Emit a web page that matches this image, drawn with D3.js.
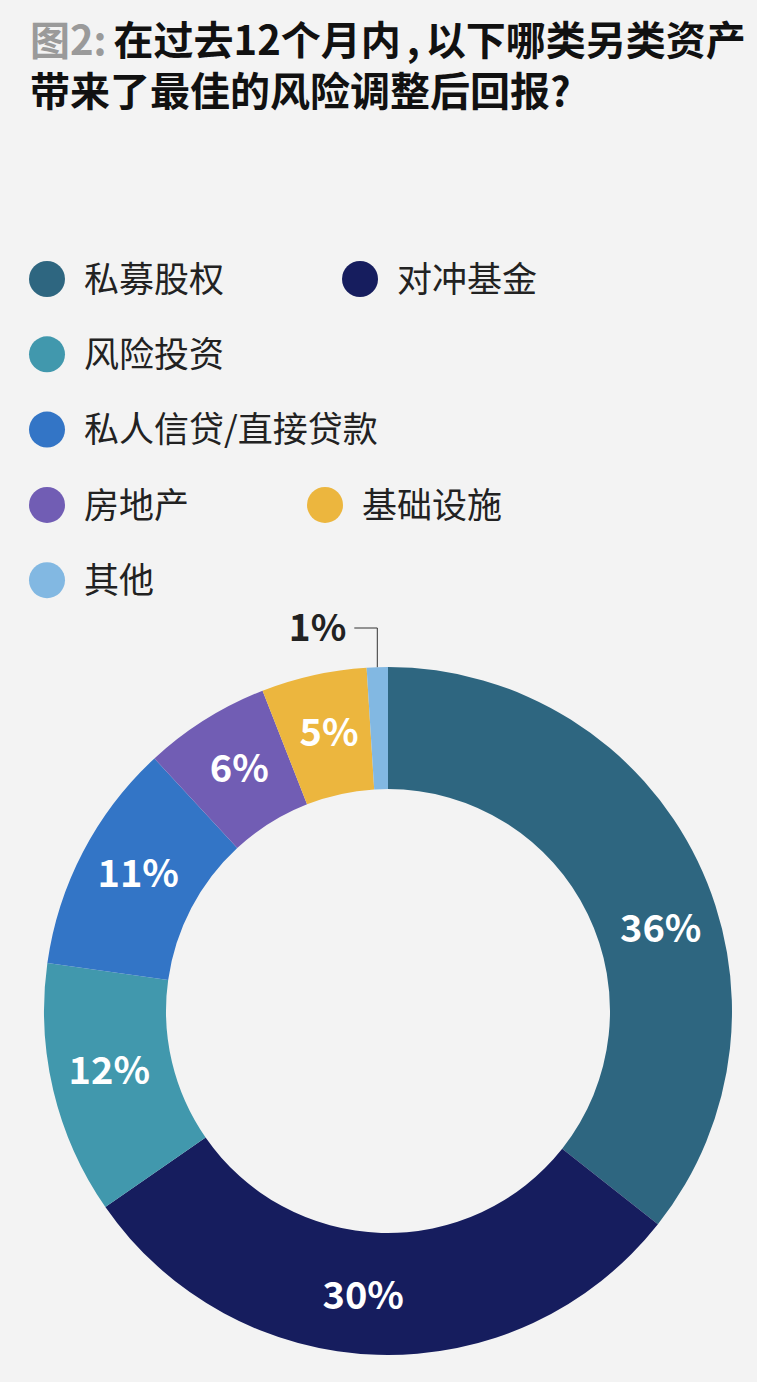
<!DOCTYPE html>
<html>
<head>
<meta charset="utf-8">
<script src="https://cdn.jsdelivr.net/npm/d3@7"></script>
<style>
  html, body { margin: 0; padding: 0; background: #f3f3f3; }
  svg { display: block; font-family: "Noto Sans CJK SC", "Noto Sans", sans-serif; }
</style>
</head>
<body>
<svg id="chart" width="757" height="1382"></svg>
<script>
// data
const categories = ["私募股权", "对冲基金", "风险投资", "私人信贷/直接贷款", "房地产", "基础设施", "其他"];
const shares = [36, 30, 12, 11, 6, 5, 1];
const colours = ["#2e6680", "#161d5e", "#4198ad", "#3375c6", "#715db4", "#ecb63e", "#82b8e2"];
const titlePrefix = "图2:";
const titlePieces = ["在过去12个月内", ",", "以下哪类另类资产"];
const titleLine2 = "带来了最佳的风险调整后回报?";

const svg = d3.select("#chart");

// title: pieces placed one after another so the punctuation gets some air
let tx = 30;
[[titlePrefix, "#9a9a9a", 7], [titlePieces[0], "#111", 6], [titlePieces[1], "#111", 6], [titlePieces[2], "#111", 0]]
  .forEach(([s, col, pad]) => {
    const t = svg.append("text")
      .attr("x", tx)
      .attr("y", 55)
      .attr("font-size", 40)
      .attr("font-weight", 700)
      .attr("fill", col)
      .text(s);
    tx += t.node().getComputedTextLength() + pad;
  });
svg.append("text")
  .attr("x", 30)
  .attr("y", 106)
  .attr("font-size", 40)
  .attr("font-weight", 700)
  .attr("fill", "#111")
  .text(titleLine2);

// legend, laid out as a wrapping row of items
const legend = svg.append("g").attr("class", "legend");
const maxWidth = 640, gap = 118, rowStep = 75.3;
let lx = 29, ly = 279;
categories.forEach((c, i) => {
  const item = legend.append("g");
  item.append("circle").attr("r", 18).attr("cx", 18).attr("fill", colours[i]);
  const t = item.append("text")
    .attr("x", 55)
    .attr("dy", "0.36em")
    .attr("font-size", 35)
    .attr("fill", "#222")
    .text(c);
  const w = 55 + t.node().getComputedTextLength();
  if (lx > 29 && lx + w > maxWidth) {
    lx = 29;
    ly += rowStep;
  }
  item.attr("transform", `translate(${lx},${ly})`);
  lx += w + gap;
});

// donut
const cx = 388, cy = 1011, outer = 344, inner = 222;
const pie = d3.pie().sort(null).value(d => d);
const arcs = pie(shares);
const arc = d3.arc().innerRadius(inner).outerRadius(outer);

const donut = svg.append("g").attr("transform", `translate(${cx},${cy})`);
donut.selectAll("path")
  .data(arcs)
  .enter()
  .append("path")
  .attr("d", arc)
  .attr("fill", (d, i) => colours[i]);

// labels inside the ring, a little past the middle of each slice
const labelR = (inner + outer) / 2 + 2;
const labelAngle = (d, i) => d.startAngle + (d.endAngle - d.startAngle) * (i === 0 ? 0.57 : 0.53);
donut.selectAll("text.inside")
  .data(arcs.filter(d => d.data >= 3))
  .enter()
  .append("text")
  .attr("class", "inside")
  .attr("transform", (d, i) => {
    const a = labelAngle(d, i);
    return `translate(${labelR * Math.sin(a)},${-labelR * Math.cos(a)})`;
  })
  .attr("text-anchor", "middle")
  .attr("dy", "0.36em")
  .attr("font-size", 38)
  .attr("font-weight", 700)
  .attr("fill", "#fff")
  .text(d => d.data + "%");

// small slice gets an outside label with an elbow leader
arcs.filter(d => d.data < 3).forEach(d => {
  const mid = (d.startAngle + d.endAngle) / 2;
  const px = outer * Math.sin(mid), py = -outer * Math.cos(mid);
  const elbowY = -outer - 39;
  donut.append("path")
    .attr("d", `M${px},${py}V${elbowY}H${px - 23}`)
    .attr("fill", "none")
    .attr("stroke", "#333")
    .attr("stroke-width", 1);
  donut.append("text")
    .attr("x", px - 31)
    .attr("y", elbowY)
    .attr("dy", "0.36em")
    .attr("text-anchor", "end")
    .attr("font-size", 37)
    .attr("font-weight", 700)
    .attr("fill", "#222")
    .text(d.data + "%");
});
</script>
</body>
</html>
